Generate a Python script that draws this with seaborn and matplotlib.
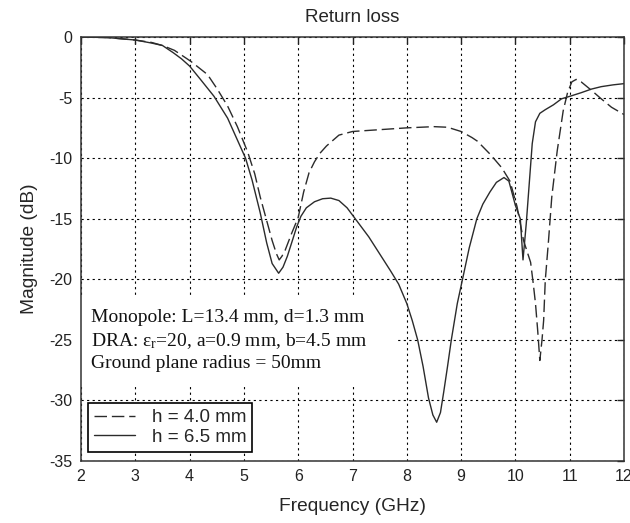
import matplotlib
matplotlib.use("Agg")
import matplotlib.pyplot as plt
import pandas as pd
import seaborn as sns
from matplotlib.patches import Rectangle

# Return loss of the DRA-loaded monopole for two heights h
freq_h40 = [2.0, 2.5, 3.0, 3.3, 3.5, 3.72, 4.02, 4.33, 4.51, 4.7, 4.88, 5.07,
            5.2, 5.3, 5.41, 5.52, 5.6, 5.65, 5.7, 5.76, 5.88, 6.0, 6.1, 6.2,
            6.3, 6.4, 6.52, 6.75, 7.0, 7.5, 8.0, 8.5, 8.75, 9.0, 9.2, 9.3,
            9.54, 9.75, 9.9, 10.03, 10.15, 10.28, 10.33, 10.37, 10.41, 10.45,
            10.49, 10.52, 10.55, 10.61, 10.67, 10.77, 10.88, 10.96, 11.04,
            11.12, 11.21, 11.4, 11.58, 11.77, 12.0]
mag_h40 = [0.0, -0.05, -0.25, -0.45, -0.7, -1.1, -2.0, -3.1, -4.3, -5.7, -7.4,
           -9.5, -11.3, -13.2, -15.0, -16.8, -17.9, -18.4, -18.1, -17.6,
           -16.2, -14.9, -12.8, -11.2, -10.3, -9.6, -9.0, -8.1, -7.8, -7.65,
           -7.5, -7.4, -7.45, -7.8, -8.3, -8.6, -9.7, -10.8, -11.9, -14.0,
           -16.8, -18.6, -20.4, -22.0, -24.2, -26.7, -25.0, -23.4, -20.1,
           -16.8, -13.2, -9.4, -6.1, -4.6, -3.7, -3.5, -3.7, -4.4, -5.1,
           -5.8, -6.4]

freq_h65 = [2.0, 2.5, 3.0, 3.3, 3.5, 3.7, 3.85, 4.0, 4.2, 4.45, 4.7, 4.88,
            5.03, 5.15, 5.3, 5.42, 5.52, 5.64, 5.72, 5.8, 5.9, 5.97, 6.05,
            6.15, 6.3, 6.45, 6.6, 6.75, 6.9, 7.05, 7.3, 7.5, 7.7, 7.85, 8.0,
            8.1, 8.2, 8.3, 8.4, 8.48, 8.55, 8.62, 8.68, 8.75, 8.82, 8.93,
            9.05, 9.15, 9.29, 9.4, 9.53, 9.65, 9.79, 9.88, 10.0, 10.09, 10.14,
            10.2, 10.25, 10.31, 10.37, 10.45, 10.55, 10.7, 10.85, 11.0, 11.21,
            11.4, 11.58, 11.8, 12.0]
mag_h65 = [0.0, -0.05, -0.25, -0.5, -0.7, -1.3, -1.8, -2.4, -3.5, -4.9, -6.7,
           -8.5, -10.0, -11.8, -14.5, -17.0, -18.7, -19.5, -19.0, -18.1,
           -16.7, -15.7, -14.8, -14.1, -13.6, -13.35, -13.3, -13.5, -14.1,
           -15.0, -16.5, -17.9, -19.3, -20.4, -22.0, -23.4, -25.0, -27.2,
           -29.8, -31.2, -31.8, -31.0, -29.3, -27.2, -25.0, -22.0, -19.5,
           -17.4, -15.0, -13.8, -12.8, -12.0, -11.6, -11.9, -13.9, -15.0,
           -18.4, -15.4, -12.4, -8.8, -7.0, -6.3, -6.0, -5.6, -5.1, -4.9,
           -4.6, -4.3, -4.1, -3.95, -3.85]

series_labels = ["h = 4.0 mm", "h = 6.5 mm"]
x_ticks = list(range(2, 13))
y_ticks = list(range(-35, 1, 5))

sns.set_style("white")
plt.rcParams["font.family"] = ["Liberation Sans", "DejaVu Sans"]
plt.rcParams["axes.unicode_minus"] = False
plt.rcParams["mathtext.fontset"] = "custom"
plt.rcParams["mathtext.rm"] = "Liberation Serif"
plt.rcParams["mathtext.it"] = "Liberation Serif:italic"

df = pd.concat([
    pd.DataFrame({"Frequency": freq_h40, "Magnitude": mag_h40,
                  "series": series_labels[0]}),
    pd.DataFrame({"Frequency": freq_h65, "Magnitude": mag_h65,
                  "series": series_labels[1]}),
], ignore_index=True)

fig = plt.figure(figsize=(6.3, 5.23), dpi=100)
ax = fig.add_axes([81 / 630, 1 - 461 / 523, 543 / 630, 424 / 523])

line_color = "#2b2b2b"
sns.lineplot(
    data=df, x="Frequency", y="Magnitude", hue="series", style="series",
    palette={s: line_color for s in series_labels},
    dashes={series_labels[0]: (9, 3.5), series_labels[1]: ""},
    sort=False, estimator=None, linewidth=1.0, ax=ax, zorder=2,
)

ax.set_xlim(2, 12)
ax.set_ylim(-35, 0)
ax.set_xticks(x_ticks)
ax.set_yticks(y_ticks)
ax.set_axisbelow(True)
ax.grid(True, color="black", linestyle=(0, (2, 3)), linewidth=0.8)

# blank panel behind the parameter notes
ax.add_patch(Rectangle((2, -28.75), 5.84, 7.45, facecolor="white",
                       edgecolor="none", zorder=1))

note_kw = dict(fontsize=14, family=["Liberation Serif", "DejaVu Serif"],
               va="baseline", ha="left", color="#111111", zorder=3)
ax.text(2.18, -23.5, "Monopole: L=13.4 mm, d=1.3 mm", **note_kw)
ax.text(2.18, -25.5, r"DRA: ε$_\mathrm{r}$=20, a=0.9 mm, b=4.5 mm", **note_kw)
ax.text(2.18, -27.33, "Ground plane radius = 50mm", **note_kw)

handles, labels = ax.get_legend_handles_labels()
leg = ax.legend(handles, labels, loc="lower left",
                bbox_to_anchor=(0.013, 0.022), borderaxespad=0,
                frameon=True, fancybox=False, framealpha=1,
                edgecolor="black", fontsize=13.5, handlelength=2.2,
                handletextpad=0.9, borderpad=0.3, labelspacing=0.15)
leg.get_frame().set_linewidth(1.2)

for sp in ax.spines.values():
    sp.set_color("#333333")
    sp.set_linewidth(1.1)
ax.tick_params(direction="in", length=5, width=1, top=True, right=True,
               labelsize=11.5, colors="#222222", pad=6)

ax.set_title("Return loss", fontsize=13.5, pad=11)
ax.set_xlabel("Frequency (GHz)", fontsize=13.8, labelpad=10)
ax.set_ylabel("Magnitude (dB)", fontsize=13.8, labelpad=8)

fig.savefig("out.png", dpi=100)
